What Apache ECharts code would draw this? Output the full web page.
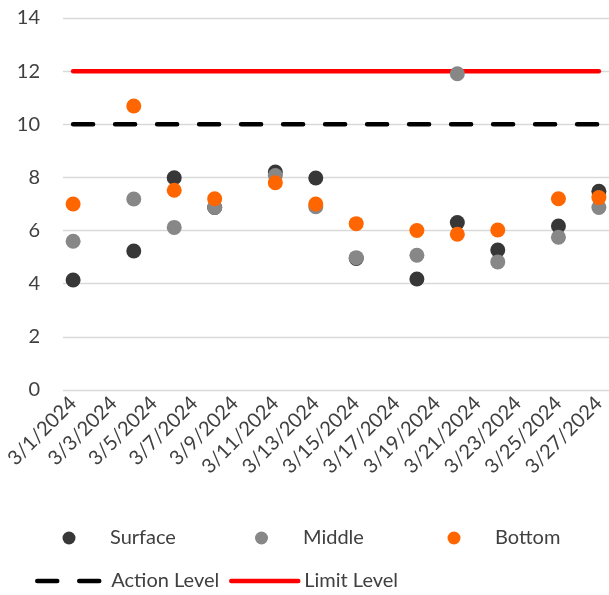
<!DOCTYPE html>
<html>
<head>
<meta charset="utf-8">
<script src="https://cdn.jsdelivr.net/npm/echarts@6/dist/echarts.min.js"></script>
<style>
html,body{margin:0;padding:0;background:#fff;}
#chart{width:609px;height:595px;}
</style>
</head>
<body>
<div id="chart"></div>
<script>
// Axis categories (every day of the period)
const categories = ['3/1/2024','3/2/2024','3/3/2024','3/4/2024','3/5/2024','3/6/2024','3/7/2024','3/8/2024','3/9/2024',
  '3/10/2024','3/11/2024','3/12/2024','3/13/2024','3/14/2024','3/15/2024','3/16/2024','3/17/2024','3/18/2024',
  '3/19/2024','3/20/2024','3/21/2024','3/22/2024','3/23/2024','3/24/2024','3/25/2024','3/26/2024','3/27/2024'];
// Sampling dates
const sampleDates = ['3/1/2024','3/4/2024','3/6/2024','3/8/2024','3/11/2024','3/13/2024','3/15/2024','3/18/2024','3/20/2024','3/22/2024','3/25/2024','3/27/2024'];
const surface = [4.14, 5.23, 7.99, 6.87, 8.20, 7.98, 4.95, 4.18, 6.30, 5.27, 6.17, 7.48];
const middle  = [5.60, 7.19, 6.12, 6.87, 8.07, 6.90, 4.98, 5.07, 11.90, 4.82, 5.75, 6.87];
const bottom  = [7.00, 10.69, 7.52, 7.20, 7.80, 7.00, 6.26, 6.00, 5.86, 6.02, 7.20, 7.24];
const actionLevel = 10;
const limitLevel = 12;
const yTicks = [0, 2, 4, 6, 8, 10, 12, 14];

const FONT = 'Lato';
const TXT = '#404040';

function pairs(vals) { return sampleDates.map((d, i) => [d, vals[i]]); }
const levelStart = categories[0], levelEnd = categories[categories.length - 1];

const chart = echarts.init(document.getElementById('chart'), null, {renderer: 'canvas'});

function legendFor(name, left, top, w, h, pad, isLine) {
  const lg = {
    data: [name], left: left, top: top, itemWidth: w, itemHeight: h, padding: 0,
    orient: 'horizontal', selectedMode: false,
    textStyle: {fontFamily: FONT, fontSize: 20, color: TXT, padding: [0, 0, 0, pad]}
  };
  if (isLine) {
    lg.itemStyle = {opacity: 0};
    lg.lineStyle = {width: 4.5};
  }
  return lg;
}

chart.setOption({
  animation: false,
  backgroundColor: '#ffffff',
  grid: {left: 63, top: 18, width: 547, height: 372, containLabel: false},
  xAxis: {
    type: 'category', data: categories, boundaryGap: true,
    axisLine: {show: false}, axisTick: {show: false},
    axisLabel: {interval: 1, rotate: 45, fontFamily: FONT, fontSize: 20, color: TXT, margin: 10}
  },
  yAxis: {
    type: 'value', min: yTicks[0], max: yTicks[yTicks.length - 1], interval: 2,
    axisLine: {show: false}, axisTick: {show: false},
    axisLabel: {fontFamily: FONT, fontSize: 20, color: TXT, margin: 23},
    splitLine: {lineStyle: {color: '#d9d9d9', width: 1.3}}
  },
  legend: [
    legendFor('Surface', 62.5, 528, 13, 13, 29.5, false),
    legendFor('Middle', 255, 528, 13, 13, 30, false),
    legendFor('Bottom', 447.5, 528, 13, 13, 29.5, false),
    legendFor('Action Level', 35, 571, 64, 13, 5, true),
    legendFor('Limit Level', 229, 571, 67, 13, 1, true)
  ],
  series: [
    {name: 'Action Level', type: 'line', data: [[levelStart, actionLevel], [levelEnd, actionLevel]],
     symbol: 'none', z: 1, lineStyle: {color: '#000000', width: 4.5, type: [20, 22], cap: 'round'},
     itemStyle: {color: '#000000'}},
    {name: 'Limit Level', type: 'line', data: [[levelStart, limitLevel], [levelEnd, limitLevel]],
     symbol: 'none', z: 1, lineStyle: {color: '#ff0000', width: 4.5, cap: 'round'},
     itemStyle: {color: '#ff0000'}},
    {name: 'Surface', type: 'scatter', data: pairs(surface), symbol: 'circle', symbolSize: 15, z: 3,
     itemStyle: {color: '#373737', opacity: 1}},
    {name: 'Middle', type: 'scatter', data: pairs(middle), symbol: 'circle', symbolSize: 15, z: 4,
     itemStyle: {color: '#878787', opacity: 1}},
    {name: 'Bottom', type: 'scatter', data: pairs(bottom), symbol: 'circle', symbolSize: 15, z: 5,
     itemStyle: {color: '#ff6600', opacity: 1}}
  ]
});
</script>
</body>
</html>
